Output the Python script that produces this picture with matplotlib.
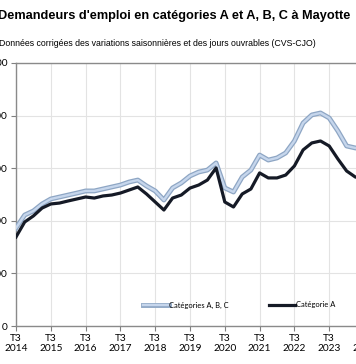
import numpy as np
import matplotlib
matplotlib.use("Agg")
import matplotlib.pyplot as plt
import matplotlib.patheffects as pe

# quarterly series, starting T3 2014
cat_abc = [7450, 8440, 8750, 9280, 9660, 9810, 9960, 10110, 10270, 10270,
           10420, 10570, 10720, 10950, 11100, 10650, 10270, 9580, 10500, 10880,
           11410, 11710, 11860, 12400, 10500, 10190, 11330, 11860, 13000, 12620,
           12780, 13160, 14070, 15440, 16050, 16200, 15820, 14830, 13690, 13540,
           13460]
cat_a = [6770, 7910, 8370, 8970, 9280, 9350, 9510, 9660, 9810, 9730,
         9890, 9960, 10110, 10340, 10570, 10040, 9430, 8820, 9730, 9960,
         10490, 10720, 11100, 12020, 9430, 9050, 10040, 10420, 11640, 11260,
         11260, 11480, 12170, 13390, 13920, 14070, 13690, 12700, 11790, 11330,
         11180]
years = list(range(2014, 2025))
y_ticks = [0, 4000, 8000, 12000, 16000, 20000]

title = "Demandeurs d'emploi en catégories A et A, B, C à Mayotte"
subtitle = "Données corrigées des variations saisonnières et des jours ouvrables (CVS-CJO)"

W, H = 356, 364
fig = plt.figure(figsize=(W / 100, H / 100), dpi=100)

# axes box in pixels: left spine at x=16, runs past the right edge
left, right, top, bottom = 16, 370, 63, 326
ax = fig.add_axes([left / W, 1 - bottom / H, (right - left) / W, (bottom - top) / H])

q = np.arange(len(cat_abc))
ax.plot(q, cat_abc, color="#c6d6ec", lw=1.7, solid_joinstyle="round",
        path_effects=[pe.Stroke(linewidth=3.5, foreground="#8ea6c4"), pe.Normal()],
        label="Catégories A, B, C", zorder=3)
ax.plot(q, cat_a, color="#151a26", lw=2.3, solid_joinstyle="round",
        label="Catégorie A", zorder=4)

ax.set_xlim(0, (right - left) / 8.7)
ax.set_ylim(0, 20000)

xt = [4 * i for i in range(len(years))]
ax.set_xticks(xt)
ax.set_xticklabels(["T3\n{}".format(y) for y in years], family="Lato",
                   fontsize=7.3, linespacing=1.25)
ax.set_yticks(y_ticks)
ax.set_yticklabels(["{:,}".format(v).replace(",", " ") for v in y_ticks],
                   family="Lato", fontsize=7.3)
ax.tick_params(axis="x", length=3.5, width=0.8, color="#808080", pad=2)
ax.tick_params(axis="y", length=3.6, width=0.8, color="#808080", pad=2.8)

ax.grid(True, color="#e3e3e3", lw=0.8)
ax.set_axisbelow(True)
for side in ("left", "bottom", "top"):
    ax.spines[side].set_color("#8a8a8a")
    ax.spines[side].set_linewidth(1.0)
ax.spines["right"].set_visible(False)

leg = ax.legend(loc="center", bbox_to_anchor=((239 - left) / (right - left), (bottom - 305) / (bottom - top)),
                ncol=2, frameon=False, prop={"family": "Lato", "size": 5.4},
                handlelength=3.4, handletextpad=0.1, columnspacing=5.4)

fig.text(-2 / W, 1 - 16 / H, title, fontsize=9.2, fontweight="bold",
         family="Liberation Sans", va="center", ha="left")
fig.text(-1 / W, 1 - 44 / H, subtitle, fontsize=6.35,
         family="Liberation Sans", va="center", ha="left")

fig.savefig("out.png", dpi=100)
